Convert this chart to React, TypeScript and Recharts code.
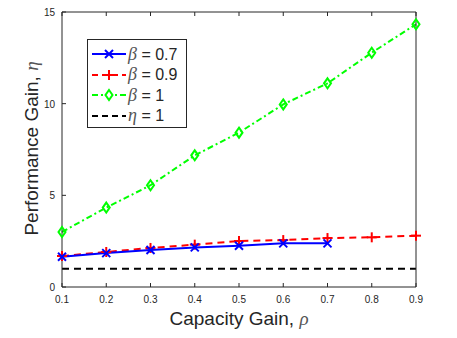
import React from 'react';
import { LineChart, Line, XAxis, YAxis } from 'recharts';

const rho = [0.1, 0.2, 0.3, 0.4, 0.5, 0.6, 0.7, 0.8, 0.9];
const beta07 = [1.65, 1.85, 2.02, 2.16, 2.25, 2.38, 2.38];
const beta09 = [1.69, 1.91, 2.13, 2.31, 2.51, 2.56, 2.67, 2.71, 2.8];
const beta1 = [3.0, 4.33, 5.55, 7.18, 8.42, 9.96, 11.11, 12.78, 14.33];
const eta1 = [1, 1, 1, 1, 1, 1, 1, 1, 1];
const yTicks = [0, 5, 10, 15];

const data = rho.map((r, i) => ({
  rho: r,
  b07: beta07[i],
  b09: beta09[i],
  b1: beta1[i],
  eta: eta1[i],
}));

const AXIS = '#262626';
const FONT = '"Liberation Sans", Arial, sans-serif';

const BottomTick = ({ x, y, payload }: any) => (
  <g>
    <line x1={x} y1={y} x2={x} y2={y - 4} stroke={AXIS} />
    <text x={x} y={y + 16} textAnchor="middle" fontSize={10} fill={AXIS} fontFamily={FONT}>
      {payload.value}
    </text>
  </g>
);
const TopTick = ({ x, y }: any) => <line x1={x} y1={y} x2={x} y2={y + 4} stroke={AXIS} />;
const LeftTick = ({ x, y, payload }: any) => (
  <g>
    <line x1={x} y1={y} x2={x + 4} y2={y} stroke={AXIS} />
    <text x={x - 7} y={y + 4} textAnchor="end" fontSize={10} fill={AXIS} fontFamily={FONT}>
      {payload.value}
    </text>
  </g>
);
const RightTick = ({ x, y }: any) => <line x1={x} y1={y} x2={x - 4} y2={y} stroke={AXIS} />;

const CrossDot = ({ cx, cy, payload }: any) =>
  cx == null || cy == null || payload.b07 == null ? null : (
    <g key={`c${cx}`} stroke="#0000ff" strokeWidth={2}>
      <line x1={cx - 4} y1={cy - 4} x2={cx + 4} y2={cy + 4} />
      <line x1={cx - 4} y1={cy + 4} x2={cx + 4} y2={cy - 4} />
    </g>
  );
const PlusDot = ({ cx, cy }: any) =>
  cx == null || cy == null ? null : (
    <g key={`p${cx}`} stroke="#ff0000" strokeWidth={2}>
      <line x1={cx - 5} y1={cy} x2={cx + 5} y2={cy} />
      <line x1={cx} y1={cy - 5} x2={cx} y2={cy + 5} />
    </g>
  );
const DiamondDot = ({ cx, cy }: any) =>
  cx == null || cy == null ? null : (
    <path
      key={`d${cx}`}
      d={`M${cx},${cy - 5} L${cx + 3.5},${cy} L${cx},${cy + 5} L${cx - 3.5},${cy} Z`}
      fill="none"
      stroke="#00ff00"
      strokeWidth={2}
    />
  );

const legendRows = [
  { name: '0.7', sym: 'β', color: '#0000ff', dash: undefined, marker: 'x' },
  { name: '0.9', sym: 'β', color: '#ff0000', dash: '6 4', marker: '+' },
  { name: '1', sym: 'β', color: '#00ff00', dash: '6 3 2 3', marker: 'd' },
  { name: '1', sym: 'η', color: '#000000', dash: '6 4', marker: '' },
];

const LegendBox = () => (
  <div
    style={{
      position: 'absolute',
      left: 87,
      top: 39,
      width: 100,
      height: 89,
      border: '1px solid #262626',
      background: '#fff',
      boxSizing: 'border-box',
    }}
  >
    {legendRows.map((r, i) => (
      <div
        key={i}
        style={{ position: 'absolute', left: 3, top: 5 + i * 20.5, height: 18, display: 'flex', alignItems: 'center' }}
      >
        <svg width={37} height={18}>
          <line x1={1} y1={9} x2={35} y2={9} stroke={r.color} strokeWidth={2} strokeDasharray={r.dash} />
          {r.marker === 'x' && (
            <g stroke={r.color} strokeWidth={2}>
              <line x1={14} y1={5} x2={22} y2={13} />
              <line x1={14} y1={13} x2={22} y2={5} />
            </g>
          )}
          {r.marker === '+' && (
            <g stroke={r.color} strokeWidth={2}>
              <line x1={13} y1={9} x2={23} y2={9} />
              <line x1={18} y1={4} x2={18} y2={14} />
            </g>
          )}
          {r.marker === 'd' && (
            <path d="M18,4 L21.5,9 L18,14 L14.5,9 Z" fill="#fff" stroke={r.color} strokeWidth={2} />
          )}
        </svg>
        <span style={{ fontSize: 16, fontFamily: FONT, color: AXIS, whiteSpace: 'nowrap', lineHeight: '18px' }}>
          <span style={{ fontFamily: '"Liberation Serif", serif', fontStyle: 'italic', fontSize: 18, color: '#555' }}>
            {r.sym}
          </span>
          {' = '}
          {r.name}
        </span>
      </div>
    ))}
  </div>
);

export default function App() {
  return (
    <div style={{ position: 'absolute', left: 0, top: 0, width: 457, height: 338, background: '#fff' }}>
      <LineChart width={457} height={338} data={data} margin={{ top: 11, right: 40, bottom: 0, left: 0 }}>
        <XAxis
          xAxisId="b"
          dataKey="rho"
          type="number"
          domain={[0.1, 0.9]}
          ticks={rho}
          height={51}
          stroke={AXIS}
          tickLine={false}
          tickSize={0}
          tickMargin={0}
          tick={<BottomTick />}
          label={{
            content: () => (
              <text x={239} y={325} textAnchor="middle" fontSize={19} fill={AXIS} fontFamily={FONT}>
                Capacity Gain,{' '}
                <tspan fontFamily='"Liberation Serif", serif' fontStyle="italic" fill="#555">
                  ρ
                </tspan>
              </text>
            ),
          }}
        />
        <XAxis
          xAxisId="t"
          dataKey="rho"
          type="number"
          domain={[0.1, 0.9]}
          ticks={rho}
          orientation="top"
          height={1}
          stroke={AXIS}
          tickLine={false}
          tickSize={0}
          tickMargin={0}
          tick={<TopTick />}
        />
        <YAxis
          yAxisId="l"
          type="number"
          domain={[0, 15]}
          ticks={yTicks}
          width={62}
          stroke={AXIS}
          tickLine={false}
          tickSize={0}
          tickMargin={0}
          tick={<LeftTick />}
          label={{
            content: () => (
              <text
                x={38}
                y={148.5}
                transform="rotate(-90 38 148.5)"
                textAnchor="middle"
                fontSize={19}
                fill={AXIS}
                fontFamily={FONT}
              >
                Performance Gain,{' '}
                <tspan fontFamily='"Liberation Serif", serif' fontStyle="italic" fill="#555">
                  η
                </tspan>
              </text>
            ),
          }}
        />
        <YAxis
          yAxisId="r"
          type="number"
          domain={[0, 15]}
          ticks={yTicks}
          orientation="right"
          width={1}
          stroke={AXIS}
          tickLine={false}
          tickSize={0}
          tickMargin={0}
          tick={<RightTick />}
        />
        <Line
          xAxisId="b"
          yAxisId="l"
          dataKey="eta"
          stroke="#000000"
          strokeWidth={2}
          strokeDasharray="7 5"
          dot={false}
          isAnimationActive={false}
        />
        <Line
          xAxisId="b"
          yAxisId="l"
          dataKey="b1"
          stroke="#00ff00"
          strokeWidth={2}
          strokeDasharray="6 3 2 3"
          dot={<DiamondDot />}
          isAnimationActive={false}
        />
        <Line
          xAxisId="b"
          yAxisId="l"
          dataKey="b09"
          stroke="#ff0000"
          strokeWidth={2}
          strokeDasharray="7 5"
          dot={<PlusDot />}
          isAnimationActive={false}
        />
        <Line
          xAxisId="b"
          yAxisId="l"
          dataKey="b07"
          stroke="#0000ff"
          strokeWidth={2}
          dot={<CrossDot />}
          isAnimationActive={false}
        />
      </LineChart>
      <LegendBox />
    </div>
  );
}
